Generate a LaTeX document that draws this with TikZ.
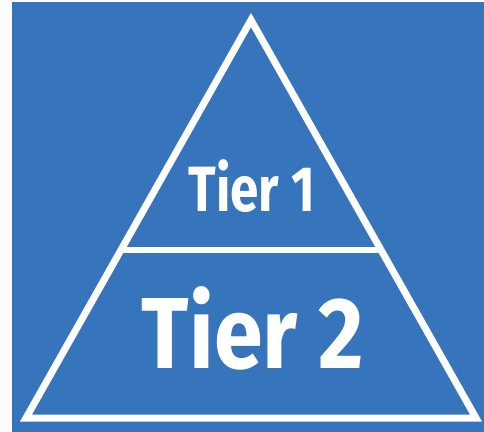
\documentclass[tikz,border=0pt]{standalone}
\usepackage{fontspec}
\usetikzlibrary{calc}
\newfontfamily\tieronefont[FakeStretch=0.8]{Fira Sans}
\newfontfamily\tiertwofont[FakeStretch=0.87]{Fira Sans}
\definecolor{tierblue}{HTML}{3674BC}
\definecolor{pagewhite}{HTML}{FCFCFC}

\begin{document}
\begin{tikzpicture}[x=1pt,y=1pt, every node/.style={text=white,inner sep=0pt}]
\tikzset{edge/.style={draw=white,line width=7pt,line join=miter}, divider/.style={draw=white,line width=5.5pt}}
\useasboundingbox (0,0) rectangle (484,431);
\fill[pagewhite] (0,0) rectangle (484,431);
\fill[tierblue] (12,-4) rectangle (488,429);
\coordinate (apex) at (251,411);
\coordinate (bl) at (26,13);
\coordinate (br) at (476,13);
\coordinate (dl) at ($(apex)!0.578!(bl)$);
\coordinate (dr) at ($(apex)!0.578!(br)$);
\draw[edge] (apex) -- (br) -- (bl) -- cycle;
\draw[divider] (dl) -- (dr);
\node[anchor=base,font=\tieronefont\bfseries\fontsize{64}{64}\selectfont] (t1) at (252,219) {Tier 1};
\node[anchor=base,font=\tiertwofont\bfseries\fontsize{101}{101}\selectfont] (t2) at (253,63) {Tier 2};
\end{tikzpicture}
\end{document}
